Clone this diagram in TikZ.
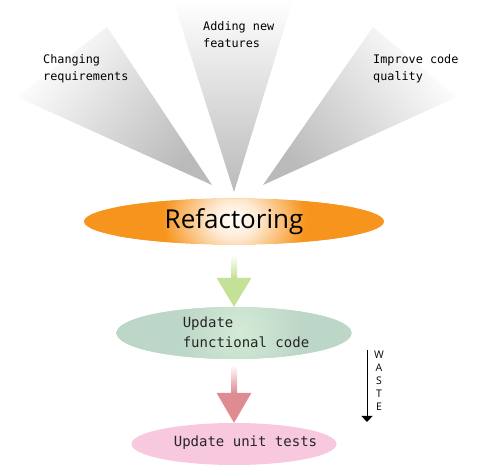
\documentclass[tikz,border=0pt]{standalone}
\usepackage{fontspec}
\setmainfont{Open Sans}
\setsansfont{Open Sans}
\setmonofont{DejaVu Sans Mono}
\usetikzlibrary{calc,shapes.geometric,arrows.meta}
\definecolor{refacorange}{RGB}{247,148,29}
\definecolor{arrgreen}{RGB}{196,225,151}
\definecolor{funcgreen}{RGB}{188,214,199}
\definecolor{funcglow}{RGB}{212,234,214}
\definecolor{arrred}{RGB}{222,140,146}
\definecolor{unitpink}{RGB}{248,200,222}
\pgfdeclareradialshading{refacglow}{\pgfpoint{0bp}{0bp}}{color(0bp)=(white); color(4bp)=(white!80!refacorange); color(12bp)=(refacorange); color(50bp)=(refacorange)}
\pgfdeclareradialshading{funcglowshade}{\pgfpoint{0bp}{0bp}}{color(0bp)=(funcglow); color(12bp)=(funcgreen); color(50bp)=(funcgreen)}
\tikzset{
  wedge/.style={top color=white, bottom color=black!27},
  toplbl/.style={font=\ttfamily\fontsize{11.8}{17}\selectfont, align=left, anchor=west, inner sep=0pt},
  steplbl/.style={font=\ttfamily\fontsize{14}{20}\selectfont, align=left, inner sep=0pt, text=black!85},
  blob/.style={ellipse, inner sep=0pt, draw=none}
}

\begin{document}
\begin{tikzpicture}[x=1pt, y=1pt]
			%%%%% START %%%%%
			\useasboundingbox (0,0) rectangle (481,470);
			
			% the three grey beams
			\shade[wedge, shading angle=51] (212,285) -- (17,373) -- (107,443) -- cycle;
			\shade[wedge] (234,278) -- (173,470) -- (293,470) -- cycle;
			\shade[wedge, shading angle=-51] (263,285) -- (457,373) -- (373,443) -- cycle;
			
			\node[toplbl] (chg) at (43,401.5) {Changing\\requirements};
			\node[toplbl] (add) at (203,435) {Adding new\\features};
			\node[toplbl] (imp) at (373,401.5) {Improve code\\quality};
			
			% refactoring
			\node[blob, minimum width=300, minimum height=46, fill=refacorange,
				path picture={\shade[shading=refacglow] ($(path picture bounding box.center)+(1,2)$) circle (120);},
				font=\sffamily\fontsize{26}{30}\selectfont] (refac) at (234,248.5) {Refactoring};
			
			% functional code
			\node[blob, minimum width=235, minimum height=52, fill=funcgreen,
				path picture={\shade[shading=funcglowshade] ($(path picture bounding box.center)+(6,3)$) circle (130);}] (func) at (234,137) {};
			\node[steplbl] (functxt) at (246,138) {Update\\functional code};
			
			% unit tests
			\node[blob, minimum width=205, minimum height=42, fill=unitpink] (unit) at (234,26) {};
			\node[steplbl] (unittxt) at (245.5,27) {Update unit tests};
			
			% fat arrows
			\shade[top color=white, bottom color=arrgreen] ($(refac.south)+(-3,-10)$) rectangle ($(func.north)+(3,29)$);
			\fill[arrgreen] ($(func.north)+(-17.5,29)$) -- ($(func.north)+(17.5,29)$) -- (func.north) -- cycle;
			
			\shade[top color=white, bottom color=arrred] ($(func.south)+(-3,-6)$) rectangle ($(unit.north)+(3,30)$);
			\fill[arrred] ($(unit.north)+(-17.5,30)$) -- ($(unit.north)+(17.5,30)$) -- (unit.north) -- cycle;
			
			% waste
			\coordinate (wtop) at (367,120);
			\coordinate (wend) at (367,48);
			\draw[line width=0.8pt, -{Triangle[width=11pt,length=6pt]}] (wtop) -- (wend);
			\node[font=\sffamily\fontsize{10.5}{13}\selectfont, align=center, inner sep=0pt] (waste) at (379,89) {W\\A\\S\\T\\E};
			
			%%%%% END %%%%%
\end{tikzpicture}
\end{document}
